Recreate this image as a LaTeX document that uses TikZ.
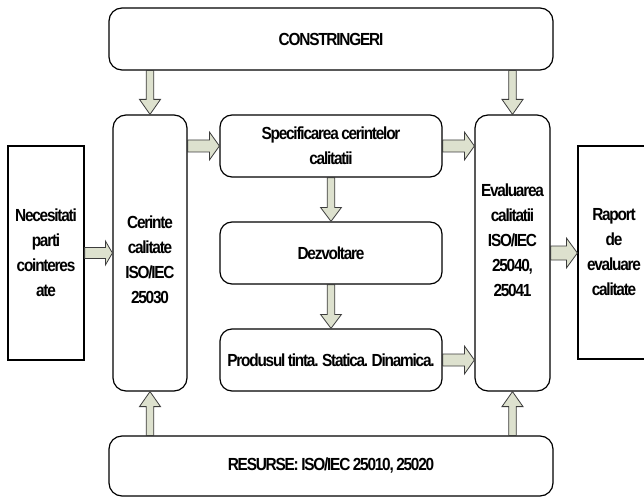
\documentclass[tikz,border=0pt]{standalone}
\usepackage{fontspec}
\setmainfont{Liberation Sans}[FakeStretch=0.88, LetterSpace=-7, WordSpace=0.8]
\usetikzlibrary{calc}

\definecolor{arrowfill}{RGB}{221,225,206}
\definecolor{arrowline}{RGB}{60,60,60}

\tikzset{
  boxfont/.style={font=\fontsize{17.5}{25}\selectfont\bfseries},
  roundbox/.style={draw=black, line width=1.2pt, rounded corners=13pt, fill=white,
                   boxfont, align=center, inner sep=0pt},
  plainbox/.style={draw=black, line width=1.2pt, fill=white,
                   boxfont, align=center, inner sep=0pt},
  lbl/.style={boxfont, align=center, inner sep=0pt},
  barrow/.style={draw=arrowline, fill=arrowfill, line width=0.8pt, line join=miter},
}

% Block arrow from #1 to the tip #2; #3 shaft half width, #4 head half width, #5 head length
\newcommand\blockarrow[5]{%
  \coordinate (ba-h) at ($(#2)!#5!(#1)$);
  \draw[barrow] ($(#1)!#3!90:(#2)$) -- ($(ba-h)!#3!90:(#2)$) -- ($(ba-h)!#4!90:(#2)$)
    -- (#2) -- ($(ba-h)!#4!-90:(#2)$) -- ($(ba-h)!#3!-90:(#2)$) -- ($(#1)!#3!-90:(#2)$) -- cycle;}

\begin{document}
\begin{tikzpicture}[x=1pt, y=-1pt]
  \useasboundingbox (0,0) rectangle (644,497);
  \begin{scope}
  \clip (0,0) rectangle (644,497);

  % frame boxes
  \node[roundbox, minimum width=444pt, minimum height=62pt] (top) at (331,39) {CONSTRINGERI};
  \node[roundbox, minimum width=444pt, minimum height=60pt] (bot) at (331,466) {RESURSE: ISO/IEC 25010, 25020};

  % side boxes
  \node[plainbox, minimum width=76pt, minimum height=214pt] (nec) at (46,253)
    {Necesitati\\parti\\cointeres\\ate};
  \node[plainbox, minimum width=72pt, minimum height=213pt] (rap) at (614,252.5)
    {Raport\\de\\evaluare\\calitate};

  % tall columns
  \node[roundbox, minimum width=74pt, minimum height=276pt] (cer) at (150,253) {};
  \node[lbl] (cer-t) at ([yshift=-7pt]cer.center) {Cerinte\\calitate\\ISO/IEC\\25030};
  \node[roundbox, minimum width=75pt, minimum height=276pt] (eval) at (512.5,253) {};
  \node[lbl] (eval-t) at ([yshift=13pt]eval.center) {Evaluarea\\calitatii\\ISO/IEC\\25040,\\25041};

  % middle chain
  \node[roundbox, rounded corners=12pt, minimum width=222pt, minimum height=62pt] (spec) at (331,146)
    {Specificarea cerintelor\\calitatii};
  \node[roundbox, rounded corners=12pt, minimum width=222pt, minimum height=62pt] (dezv) at (331,253)
    {Dezvoltare};
  \node[roundbox, rounded corners=12pt, minimum width=222pt, minimum height=62pt] (prod) at (331,360)
    {Produsul tinta. Statica. Dinamica.};

  % arrow end points
  \coordinate (topL) at (top.south -| cer.north);
  \coordinate (topR) at (top.south -| eval.north);
  \coordinate (botL) at (bot.north -| cer.south);
  \coordinate (botR) at (bot.north -| eval.south);
  \coordinate (necIn) at (cer.west |- nec.east);
  \coordinate (cerOut) at (cer.east |- spec.west);
  \coordinate (specIn) at (eval.west |- spec.east);
  \coordinate (prodIn) at (eval.west |- prod.east);
  \coordinate (rapIn) at (rap.west |- eval.east);

  % vertical arrows
  \blockarrow{topL}{cer.north}{3.8pt}{10.5pt}{15pt}
  \blockarrow{topR}{eval.north}{3.8pt}{10.5pt}{15pt}
  \blockarrow{botL}{cer.south}{3.8pt}{10.5pt}{15pt}
  \blockarrow{botR}{eval.south}{3.8pt}{10.5pt}{15pt}
  \blockarrow{spec.south}{dezv.north}{3.8pt}{10.5pt}{14pt}
  \blockarrow{dezv.south}{prod.north}{3.8pt}{10.5pt}{14pt}

  % horizontal arrows
  \blockarrow{nec.east}{necIn}{5.5pt}{12pt}{7pt}
  \blockarrow{cerOut}{spec.west}{6pt}{14pt}{10pt}
  \blockarrow{spec.east}{specIn}{6pt}{14pt}{10pt}
  \blockarrow{prod.east}{prodIn}{6pt}{14pt}{10pt}
  \blockarrow{eval.east}{rapIn}{7pt}{15pt}{11pt}
  \end{scope}
\end{tikzpicture}
\end{document}
